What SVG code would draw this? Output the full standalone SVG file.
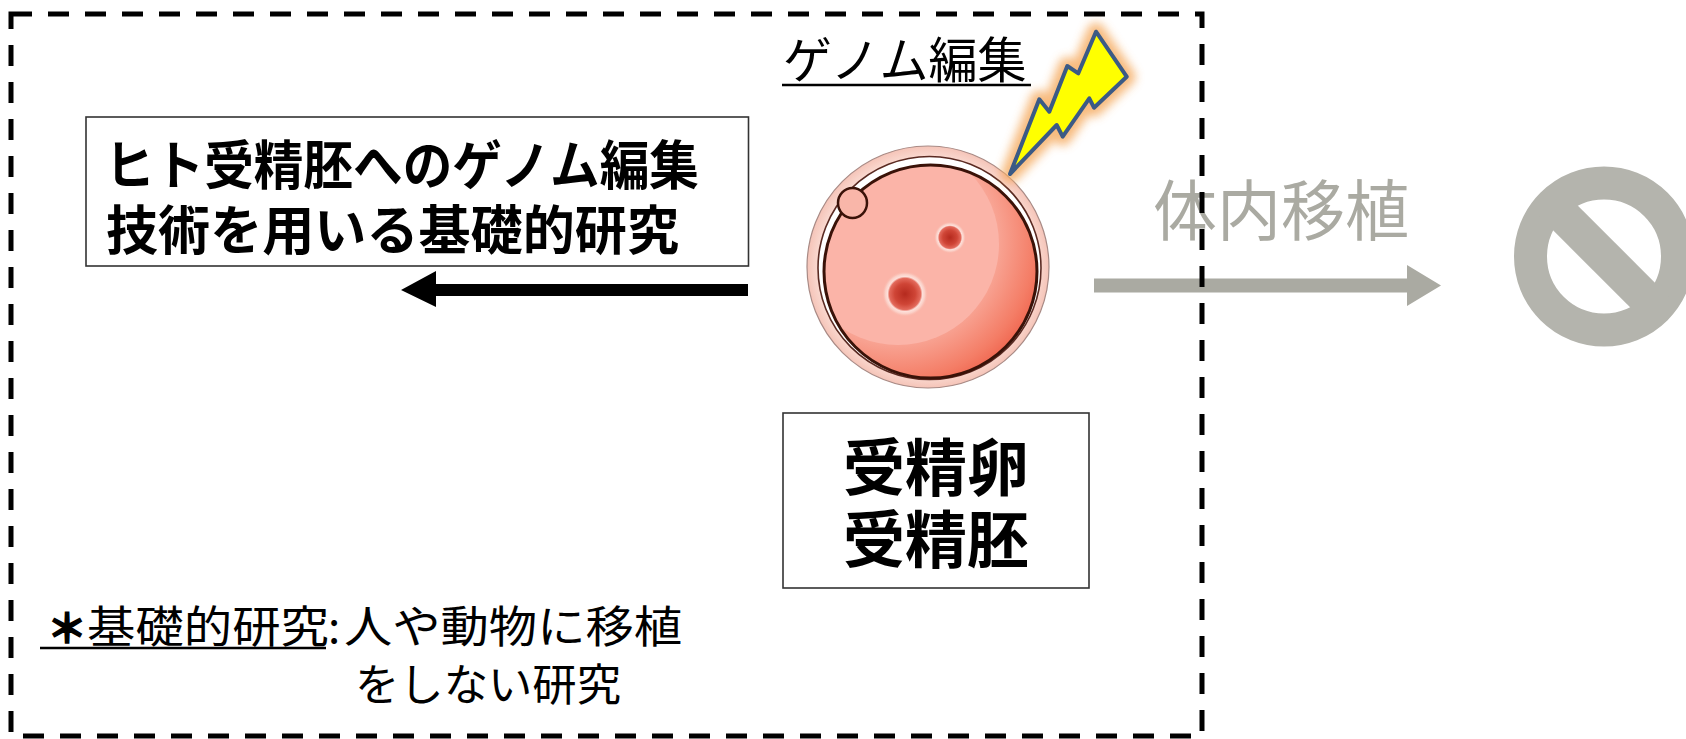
<svg xmlns="http://www.w3.org/2000/svg" width="1686" height="739" viewBox="0 0 1686 739">
  <style>
    .jp { font-family: "Noto Sans CJK JP", "Noto Sans", sans-serif; }
    .bold { font-weight: 700; }
    .box { fill: #ffffff; stroke: #333333; stroke-width: 1.6; }
    .ink { fill: #000000; }
    .grey { fill: #aaaaa2; }
    .frame { fill: none; stroke: #000000; stroke-width: 5; stroke-dasharray: 21 16; }
  </style>
  <defs>
    <filter id="glow" x="-30%" y="-30%" width="160%" height="160%">
      <feGaussianBlur stdDeviation="5"/>
    </filter>
    <radialGradient id="cellShade" gradientUnits="userSpaceOnUse" cx="895" cy="240" r="175">
      <stop offset="0.55" stop-color="#f9ab9c"/>
      <stop offset="0.8" stop-color="#f47d66"/>
      <stop offset="1" stop-color="#eb4c36"/>
    </radialGradient>
    <radialGradient id="zona" gradientUnits="userSpaceOnUse" cx="928" cy="267" r="121">
      <stop offset="0.88" stop-color="#fbe0d8"/>
      <stop offset="1" stop-color="#f5c4b8"/>
    </radialGradient>
    <radialGradient id="nucleus">
      <stop offset="0" stop-color="#b52a1e"/>
      <stop offset="0.45" stop-color="#cf4536"/>
      <stop offset="0.68" stop-color="#e36a5c"/>
      <stop offset="0.76" stop-color="#fde0da"/>
      <stop offset="0.86" stop-color="#fbcfc6"/>
      <stop offset="1" stop-color="#f9b4a6" stop-opacity="0"/>
    </radialGradient>
    <clipPath id="cellClip">
      <circle cx="930.5" cy="271.5" r="106.5"/>
    </clipPath>
  </defs>

  <!-- transplant path (greyed out) -->
  <g id="transplant-label">
    <text class="jp grey" x="1153" y="235" font-size="66" textLength="256" lengthAdjust="spacingAndGlyphs">体内移植</text>
  </g>

  <g id="ban-sign">
    <circle cx="1604" cy="256.5" r="73.5" fill="none" stroke="#b4b4ad" stroke-width="33"/>
    <line x1="1552" y1="204.5" x2="1656" y2="308.5" stroke="#b4b4ad" stroke-width="35"/>
  </g>

  <g id="connectors">
    <!-- towards basic research -->
    <path d="M748 284 L436 284 L436 271 L401 290 L436 307 L436 296 L748 296 Z" fill="#000000"/>
    <!-- towards transplantation -->
    <path d="M1094 278.5 L1407 278.5 L1407 265 L1441 285.5 L1407 306 L1407 292.5 L1094 292.5 Z" fill="#aaaaa2"/>
  </g>

  <!-- outer dashed frame -->
  <rect class="frame" x="11" y="14" width="1191" height="722"/>

  <g id="title-genome-editing">
    <text class="jp ink" x="783" y="78" font-size="49">ゲノム編集</text>
    <line x1="782" y1="85" x2="1031" y2="85" stroke="#000000" stroke-width="2.5"/>
  </g>

  <g id="basic-research-box">
    <rect class="box" x="86" y="117" width="662.5" height="149"/>
    <text class="jp bold ink" x="105" y="185" font-size="53" textLength="594" lengthAdjust="spacingAndGlyphs">ヒト受精胚へのゲノム編集</text>
    <text class="jp bold ink" x="106" y="250" font-size="53" textLength="573" lengthAdjust="spacingAndGlyphs">技術を用いる基礎的研究</text>
  </g>

  <g id="embryo">
    <circle cx="928" cy="267" r="121" fill="url(#zona)" stroke="#a88a85" stroke-width="1.2"/>
    <circle cx="929.5" cy="268" r="111.5" fill="#ffffff" stroke="#5a2a22" stroke-width="1.6"/>
    <circle cx="930.5" cy="271.5" r="106.5" fill="url(#cellShade)"/>
    <g clip-path="url(#cellClip)">
      <circle cx="898" cy="244" r="101" fill="#fbb4a8"/>
    </g>
    <circle cx="930.5" cy="271.5" r="106.5" fill="none" stroke="#3a1208" stroke-width="3"/>
    <ellipse cx="852.5" cy="203" rx="14.5" ry="15" fill="#f9b6a9" stroke="#3a1208" stroke-width="2.5"/>
    <circle cx="950" cy="237.5" r="16" fill="url(#nucleus)"/>
    <circle cx="905" cy="294" r="23" fill="url(#nucleus)"/>
  </g>

  <g id="lightning">
    <polygon points="1010,174 1039.3,99.3 1049.3,111.7 1067.3,66 1078.3,73.3 1096,31.7 1126.7,76.7 1094,107.7 1089.3,98.3 1062.7,136.7 1056.7,125" fill="none" stroke="#f5aa5e" stroke-width="18" stroke-linejoin="round" opacity="0.8" filter="url(#glow)"/>
    <polygon points="1010,174 1039.3,99.3 1049.3,111.7 1067.3,66 1078.3,73.3 1096,31.7 1126.7,76.7 1094,107.7 1089.3,98.3 1062.7,136.7 1056.7,125" fill="#ffff00" stroke="#3b5a85" stroke-width="4" stroke-linejoin="round"/>
  </g>

  <g id="zygote-box">
    <rect class="box" x="783" y="413" width="306" height="175"/>
    <text class="jp bold ink" x="936" y="491" font-size="62" text-anchor="middle">受精卵</text>
    <text class="jp bold ink" x="936" y="563" font-size="62" text-anchor="middle">受精胚</text>
  </g>

  <g id="footnote">
    <text class="jp bold ink" x="47" y="643" font-size="40" stroke="#000000" stroke-width="1.5">＊</text>
    <text class="jp ink" x="87" y="643" font-size="44" textLength="242" lengthAdjust="spacingAndGlyphs">基礎的研究</text>
    <line x1="40" y1="648" x2="326" y2="648" stroke="#000000" stroke-width="2.5"/>
    <text class="jp ink" x="328" y="643" font-size="44">:</text>
    <text class="jp ink" x="344" y="643" font-size="44" textLength="338" lengthAdjust="spacingAndGlyphs">人や動物に移植</text>
    <text class="jp ink" x="355" y="701" font-size="44" textLength="266" lengthAdjust="spacingAndGlyphs">をしない研究</text>
  </g>
</svg>
